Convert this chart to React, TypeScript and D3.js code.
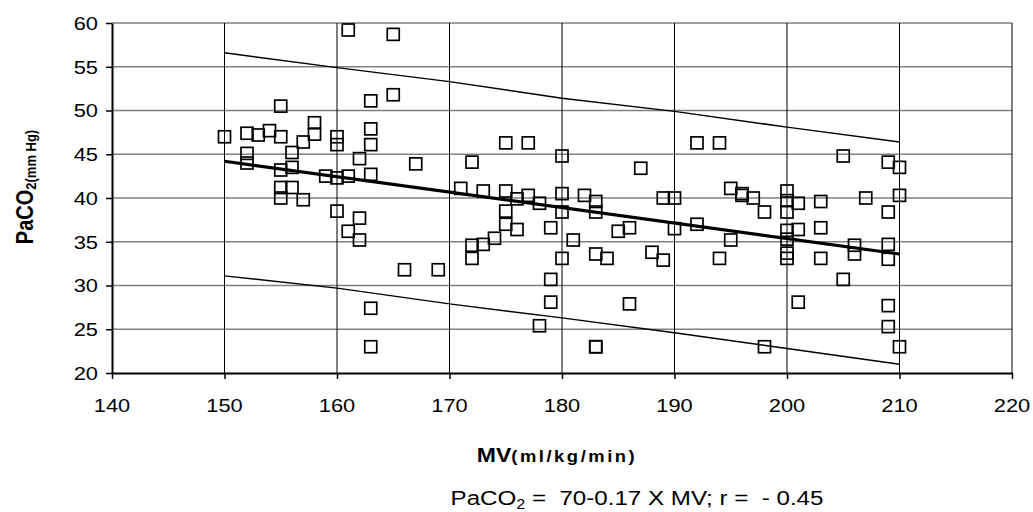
import { useEffect, useRef } from "react";
import * as d3 from "d3";

// scatter points: MV (ml/kg/min) and PaCO2 (mm Hg)
const mv = [
  150,
  152, 152, 152,
  153, 154,
  155, 155, 155, 155, 155,
  156, 156, 156,
  157, 157,
  158, 158,
  159,
  160, 160, 160, 160,
  161, 161, 161,
  162, 162, 162,
  163, 163, 163, 163, 163, 163,
  165, 165,
  166, 167, 169, 171,
  172, 172, 172,
  173, 173,
  174,
  175, 175, 175, 175,
  176, 176,
  177, 177,
  178, 178,
  179, 179, 179,
  180, 180, 180, 180,
  181, 182,
  183, 183, 183, 183, 183,
  184, 185,
  186, 186,
  187, 188,
  189, 189,
  190, 190,
  192, 192,
  194, 194,
  195, 195,
  196, 196,
  197,
  198, 198,
  200, 200, 200, 200, 200, 200, 200,
  201, 201, 201,
  203, 203, 203,
  205, 205,
  206, 206,
  207,
  209, 209, 209, 209, 209, 209,
  210, 210, 210,
];
const paco2 = [
  47.0,
  47.4, 45.1, 44.0,
  47.2, 47.7,
  50.5, 47.0, 43.2, 41.2, 40.0,
  45.2, 43.5, 41.2,
  46.4, 39.8,
  48.6, 47.3,
  42.5,
  47.0, 46.1, 42.3, 38.5,
  59.2, 42.5, 36.2,
  44.5, 37.7, 35.2,
  51.1, 47.9, 46.1, 42.7, 27.4, 23.0,
  58.7, 51.8,
  31.8, 43.9, 31.8, 41.1,
  44.1, 34.6, 33.1,
  40.8, 34.7,
  35.4,
  46.3, 40.8, 38.5, 37.0,
  39.9, 36.4,
  46.3, 40.3,
  39.4, 25.4,
  36.6, 30.7, 28.1,
  44.8, 40.5, 38.4, 33.1,
  35.2, 40.3,
  39.6, 38.4, 33.6, 23.0, 23.0,
  33.1, 36.2,
  36.6, 27.9,
  43.4, 33.8,
  40.0, 32.9,
  40.0, 36.5,
  46.3, 37.0,
  46.3, 33.1,
  41.1, 35.2,
  40.5, 40.3,
  40.0,
  38.4, 23.0,
  40.8, 39.7, 38.4, 36.3, 35.3, 33.7, 33.1,
  39.4, 36.4, 28.1,
  39.6, 36.6, 33.1,
  44.8, 30.7,
  34.6, 33.6,
  40.0,
  44.1, 38.4, 34.7, 33.0, 27.7, 25.3,
  43.5, 40.3, 23.0,
];

// regression line and the two band lines
const fitMv = [150, 210];
const fitPaco2 = [44.2, 33.6];
const bandMv = [150, 160, 170, 180, 190, 200, 210];
const upperBand = [56.6, 54.9, 53.3, 51.4, 49.9, 48.1, 46.4];
const lowerBand = [31.1, 29.7, 27.9, 26.3, 24.6, 22.8, 21.0];

const xTicks = [140, 150, 160, 170, 180, 190, 200, 210, 220];
const yTicks = [20, 25, 30, 35, 40, 45, 50, 55, 60];

export default function App() {
  const ref = useRef<SVGSVGElement>(null);

  useEffect(() => {
    document.body.style.margin = "0";
    const svg = d3.select(ref.current);
    svg.selectAll("*").remove();

    const x = d3.scaleLinear().domain([140, 220]).range([112, 1012]);
    const y = d3.scaleLinear().domain([20, 60]).range([373, 23]);
    const sx = 1.15; // the source picture is a bit wider than tall
    const font = "'Liberation Sans', Arial, sans-serif";

    // grid
    svg.append("g")
      .selectAll("line")
      .data(yTicks.filter((d) => d !== 20))
      .join("line")
      .attr("x1", x(140)).attr("x2", x(220))
      .attr("y1", (d) => y(d)).attr("y2", (d) => y(d))
      .attr("stroke", "#808080").attr("stroke-width", 1.3);
    svg.append("g")
      .selectAll("line")
      .data(xTicks.filter((d) => d !== 140))
      .join("line")
      .attr("x1", (d) => x(d)).attr("x2", (d) => x(d))
      .attr("y1", y(60)).attr("y2", y(20))
      .attr("stroke", "#000").attr("stroke-width", 1);

    // axes
    const yAxis = svg.append("g")
      .attr("transform", `translate(${x(140)},0)`)
      .call(d3.axisLeft(y).tickValues(yTicks).tickSize(6).tickSizeOuter(0).tickFormat(() => ""));
    yAxis.select(".domain").attr("stroke-width", 2);
    const xAxis = svg.append("g")
      .attr("transform", `translate(0,${y(20)})`)
      .call(d3.axisBottom(x).tickValues(xTicks).tickSize(6).tickSizeOuter(0).tickFormat(() => ""));
    xAxis.select(".domain").attr("stroke-width", 2);
    svg.selectAll(".tick line").attr("stroke-width", 1.5);

    // tick labels
    svg.append("g")
      .selectAll("text")
      .data(yTicks)
      .join("text")
      .attr("transform", (d) => `translate(98,${y(d)}) scale(${sx},1)`)
      .attr("dy", "0.36em")
      .attr("text-anchor", "end")
      .attr("font-family", font).attr("font-size", 19)
      .text((d) => d);
    svg.append("g")
      .selectAll("text")
      .data(xTicks)
      .join("text")
      .attr("transform", (d) => `translate(${x(d)},412) scale(${sx},1)`)
      .attr("text-anchor", "middle")
      .attr("font-family", font).attr("font-size", 19)
      .text((d) => d);

    // bands
    const line = d3.line<number>()
      .x((d, i) => x(bandMv[i]))
      .y((d) => y(d));
    [upperBand, lowerBand].forEach((b) => {
      svg.append("path")
        .datum(b)
        .attr("fill", "none").attr("stroke", "#000").attr("stroke-width", 1.5)
        .attr("d", line);
    });

    // regression line
    svg.append("path")
      .datum(fitPaco2)
      .attr("fill", "none").attr("stroke", "#000").attr("stroke-width", 3.2)
      .attr("d", d3.line<number>().x((d, i) => x(fitMv[i])).y((d) => y(d)));

    // points
    const s = 12;
    svg.append("g")
      .selectAll("rect")
      .data(mv.map((m, i) => [m, paco2[i]]))
      .join("rect")
      .attr("x", (d) => x(d[0]) - s / 2)
      .attr("y", (d) => y(d[1]) - s / 2)
      .attr("width", s).attr("height", s)
      .attr("fill", "none").attr("stroke", "#000").attr("stroke-width", 1.7);

    // y title
    const yt = svg.append("text")
      .attr("transform", `translate(33,187) scale(${sx},1) rotate(-90)`)
      .attr("text-anchor", "middle")
      .attr("font-family", font).attr("font-weight", "bold");
    yt.append("tspan").attr("font-size", 20).text("PaCO");
    yt.append("tspan").attr("font-size", 13).attr("dy", 3).text("2(mm Hg)");

    // x title
    const xt = svg.append("text")
      .attr("transform", `translate(557,462) scale(${sx},1)`)
      .attr("text-anchor", "middle")
      .attr("font-family", font).attr("font-weight", "bold");
    xt.append("tspan").attr("font-size", 20).text("MV");
    xt.append("tspan").attr("font-size", 16).attr("letter-spacing", 2.2).text("(ml/kg/min)");

    // equation
    const eq = svg.append("text")
      .attr("transform", `translate(637,505) scale(${sx},1)`)
      .attr("text-anchor", "middle")
      .attr("font-family", font).attr("font-size", 21)
      .style("white-space", "pre");
    eq.append("tspan").text("PaCO");
    eq.append("tspan").attr("font-size", 14).attr("dy", 4).text("2");
    eq.append("tspan").attr("dy", -4).text(" =  70-0.17 X MV; r =  - 0.45");
  }, []);

  return <svg ref={ref} width={1033} height={512} style={{ display: "block", background: "#fff" }} />;
}
